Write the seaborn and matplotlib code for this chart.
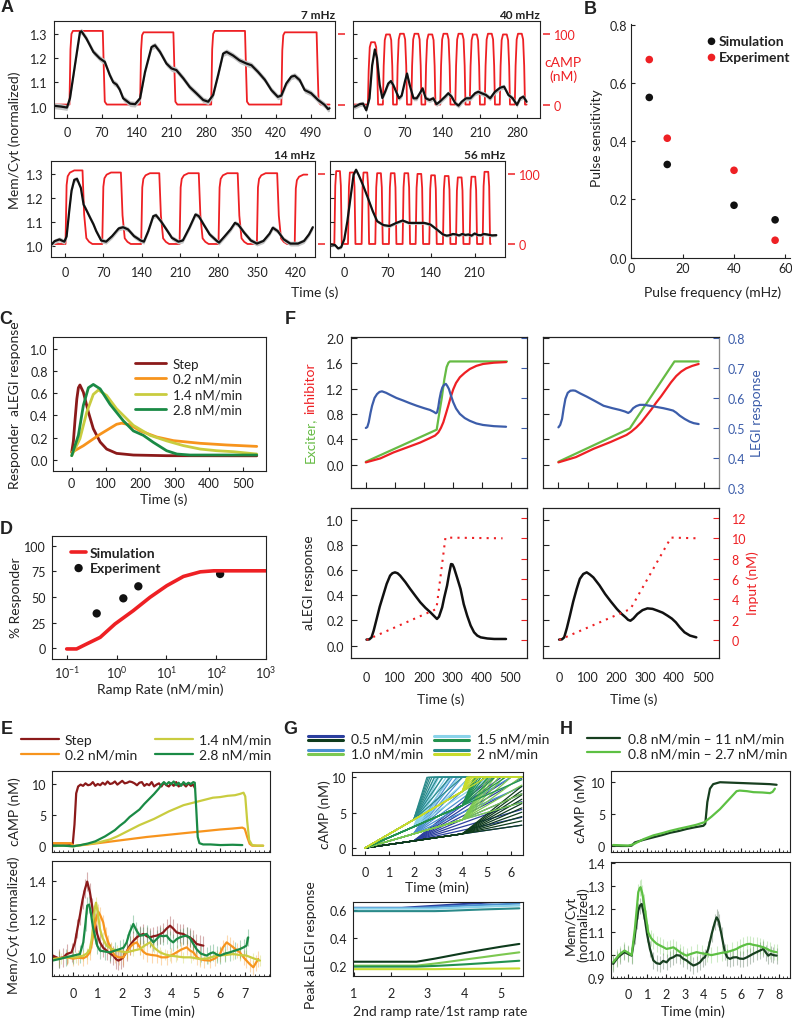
import matplotlib
matplotlib.use("Agg")
import numpy as np
import matplotlib.pyplot as plt
import seaborn as sns
from matplotlib.lines import Line2D
from matplotlib.legend_handler import HandlerBase
from matplotlib.ticker import MultipleLocator, FixedLocator, NullLocator, FormatStrFormatter

# ============================ DATA ============================
# ---- Panel A : black = Mem/Cyt (normalized), red = cAMP pulses (nM)
A7_BLACK = [(-25,1.003),(-12,1.0),(0,0.996),(6,1.034),(16,1.17),(26,1.305),(29,1.31),(39,1.28),(53,1.225),
            (66,1.198),(76,1.184),(86,1.13),(93,1.1),(100,1.09),(106,1.07),(113,1.034),(127,1.012),(137,1.01),
            (147,1.034),(157,1.143),(170,1.245),(177,1.252),(187,1.225),(200,1.177),(210,1.157),(220,1.15),
            (234,1.116),(247,1.08),(260,1.055),(274,1.027),(284,1.02),(294,1.048),(304,1.13),(314,1.218),
            (321,1.225),(334,1.21),(347,1.19),(361,1.177),(371,1.17),(384,1.143),(398,1.11),(411,1.068),
            (424,1.04),(431,1.045),(441,1.095),(451,1.123),(458,1.127),(468,1.109),(478,1.068),(491,1.055),
            (505,1.027),(518,1.007),(525,0.99),(528,0.993)]
A7_RISE = [5, 147, 290, 431]
A7_FALL = [72, 214, 358, 502]
A7_TOP = [104, 102, 104, 102]

A40_BLACK = [(-27,1.0),(-23,1.0),(-14,1.01),(-8,1.012),(-2,0.985),(4,1.034),(9,1.17),(14,1.235),(18,1.2),
             (23,1.09),(28,1.035),(33,1.06),(39,1.095),(44,1.105),(48,1.09),(54,1.06),(59,1.034),(64,1.045),
             (70,1.102),(74,1.136),(79,1.089),(86,1.034),(92,1.034),(98,1.055),(103,1.075),(109,1.034),
             (116,1.027),(123,1.034),(129,1.01),(135,1.02),(145,1.041),(151,1.055),(157,1.041),(164,1.014),
             (170,1.004),(176,1.02),(184,1.034),(192,1.034),(201,1.055),(207,1.061),(213,1.055),(221,1.048),
             (229,1.034),(238,1.061),(248,1.078),(255,1.082),(263,1.048),(271,1.034),(279,1.007),(285,1.034),
             (291,1.041),(297,1.02)]
A40_RISE = [1, 29, 55, 82, 108, 136, 164, 191, 219, 247, 275]
A40_FALL = [14, 42, 68, 95, 121, 149, 177, 204, 232, 260, 288]
A40_TOP = [88, 99, 100, 100, 99, 100, 100, 99, 100, 99, 100]

A14_BLACK = [(-24,1.007),(-19,1.02),(-10,1.0275),(-6,1.023),(-1,1.018),(3,1.04),(8,1.15),(12,1.23),(17,1.275),
             (22,1.279),(29,1.241),(34,1.172),(40,1.145),(46,1.117),(52,1.09),(57,1.062),(66,1.023),(75,1.018),
             (86,1.041),(98,1.073),(106,1.078),(115,1.069),(126,1.041),(138,1.023),(144,1.018),(152,1.062),
             (161,1.124),(166,1.128),(175,1.103),(187,1.062),(195,1.034),(207,1.018),(215,1.023),(227,1.076),
             (238,1.131),(244,1.124),(253,1.089),(264,1.048),(276,1.023),(281,1.014),(290,1.037),(302,1.069),
             (310,1.096),(316,1.089),(327,1.055),(339,1.023),(350,1.01),(362,1.021),(373,1.051),(379,1.076),
             (388,1.062),(399,1.0275),(411,1.01),(425,1.01),(436,1.021),(445,1.048),(452,1.078)]
A14_RISE = [1, 68, 139, 209, 280, 350, 419]
A14_FALL = [32, 102, 172, 244, 315, 387]
A14_TOP = [105, 102, 101, 101, 101, 101, 99]

A56_BLACK = [(-22,1.007),(-15,1.004),(-10,0.99),(-5,0.995),(0,1.028),(5,1.103),(10,1.2),(15,1.296),(19,1.317),
             (23,1.296),(30,1.254),(38,1.2),(46,1.144),(53,1.103),(63,1.087),(73,1.083),(84,1.096),(94,1.106),
             (104,1.096),(114,1.096),(129,1.096),(139,1.089),(149,1.069),(159,1.048),(165,1.043),(170,1.045),
             (175,1.05),(180,1.048),(185,1.044),(190,1.05),(195,1.046),(200,1.048),(205,1.043),(210,1.052),
             (215,1.046),(220,1.045),(225,1.05),(230,1.048),(238,1.044),(245,1.045)]
A56_RISE = [-16, 6, 28, 50, 72, 94, 115, 137, 159, 180, 202, 223]
A56_FALL = [-7, 15, 37, 59, 81, 103, 124, 146, 168, 189, 211, 232]
A56_TOP = [104, 102, 102, 101, 101, 101, 100, 98, 97, 95, 96, 103]

# ---- Panel B
B_FREQ = [7, 14, 40, 56]
B_SIM = [0.55, 0.32, 0.18, 0.13]
B_EXP = [0.68, 0.41, 0.30, 0.06]
B_YTICKS = [0.0, 0.2, 0.4, 0.6, 0.8]
B_YTICKLABELS = ["0.0", "0.2", "0.4", "0.6", "0.8"]

# ---- Panel C : responder aLEGI response vs time (s)
C_STEP = [(0,0.066),(5,0.17),(10,0.37),(15,0.55),(19.5,0.65),(24,0.675),(34,0.61),(48.7,0.43),(63,0.28),
          (83,0.16),(102,0.096),(131,0.057),(180,0.042),(277,0.036),(540,0.035)]
C_02 = [(0,0.066),(34,0.126),(83,0.23),(131,0.32),(146,0.33),(170,0.315),(200,0.26),(248,0.205),(297,0.172),
        (375,0.148),(452,0.133),(540,0.12)]
C_14 = [(0,0.036),(24,0.19),(44,0.43),(63,0.59),(78,0.63),(102,0.58),(131,0.46),(180,0.31),(229,0.22),
        (277,0.17),(326,0.127),(375,0.096),(423,0.081),(472,0.072),(540,0.051)]
C_28 = [(0,0.036),(19.5,0.22),(34,0.49),(48.7,0.65),(63,0.68),(83,0.64),(112,0.5),(151,0.35),(180,0.26),
        (209,0.22),(238,0.157),(277,0.081),(307,0.051),(345,0.042),(540,0.042)]

# ---- Panel D
D_SIM = [(0.1,-0.6),(0.158,-0.6),(0.25,4.2),(0.47,10.7),(0.93,23.7),(2.17,36.7),(4.7,49.7),(10.2,61),
         (22,70),(48,74.5),(89,75.5),(1000,75.5)]
D_EXP_X = [0.4, 1.37, 2.74, 120]
D_EXP_Y = [34, 48.7, 60.4, 72.4]

# ---- Panel E
E_STEP_CAMP = [(-0.85,0.4),(-0.5,0.45),(-0.2,0.4),(-0.02,0.4),(0.05,3.5),(0.12,8.5),(0.2,9.6),(0.3,9.9),
               (0.4,9.7),(0.5,10.1),(0.6,9.8),(0.7,9.9),(0.8,10.3),(0.9,9.7),(1.0,10.0),(1.1,9.8),(1.2,10.2),
               (1.3,9.9),(1.4,10.4),(1.5,10.0),(1.6,10.1),(1.7,10.4),(1.8,9.9),(1.9,10.2),(2.0,10.5),(2.1,10.1),
               (2.2,10.2),(2.3,10.4),(2.4,10.3),(2.5,10.1),(2.6,9.8),(2.7,10.2),(2.8,10.3),(2.9,9.7),(3.0,10.0),
               (3.1,9.8),(3.2,10.3),(3.3,9.6),(3.4,9.9),(3.5,10.1),(3.6,9.6),(3.7,10.2),(3.8,9.8),(3.9,9.6),
               (4.0,10.1),(4.1,9.7),(4.2,10.3),(4.3,9.6),(4.4,9.9),(4.5,10.0),(4.6,9.6),(4.7,10.1),(4.8,9.7),
               (4.9,9.9),(4.97,9.3)]
E_02_CAMP = [(-0.85,0.5),(-0.5,0.5),(-0.1,0.5),(0.0,0.05),(0.5,0.25),(1.0,0.5),(1.5,0.75),(2.0,1.0),(2.5,1.25),
             (3.0,1.5),(3.5,1.7),(4.0,1.9),(4.5,2.1),(5.0,2.3),(5.5,2.5),(6.0,2.7),(6.5,2.85),(6.9,3.0),
             (7.0,2.8),(7.1,1.5),(7.2,0.4),(7.3,0.1),(7.75,0.1)]
E_14_CAMP = [(-0.85,0.1),(-0.3,0.1),(0.0,0.0),(0.5,0.3),(1.0,0.6),(1.5,1.1),(1.8,1.6),(2.1,2.2),(2.4,2.8),
             (2.7,3.4),(3.0,3.9),(3.3,4.4),(3.6,5.0),(3.9,5.6),(4.2,6.1),(4.5,6.6),(4.8,6.9),(5.1,7.2),
             (5.4,7.5),(5.7,7.8),(6.0,7.9),(6.3,8.1),(6.6,8.2),(6.8,8.4),(6.95,8.6),(7.02,8.0),(7.1,4.0),
             (7.18,1.0),(7.3,0.2),(7.5,0.1),(7.75,0.1)]
E_28_CAMP = [(-0.85,0.1),(-0.4,0.1),(0.0,0.0),(0.3,0.2),(0.6,0.45),(0.9,0.8),(1.1,1.2),(1.3,1.6),(1.5,2.1),
             (1.7,2.6),(1.9,3.3),(2.1,3.9),(2.3,4.7),(2.5,5.3),(2.7,5.9),(2.9,6.8),(3.1,7.6),(3.3,8.4),
             (3.5,9.3),(3.6,9.9),(3.7,10.3),(3.8,9.9),(3.9,10.3),(4.0,10.0),(4.1,10.4),(4.2,9.8),(4.3,10.2),
             (4.4,9.7),(4.5,10.3),(4.6,9.9),(4.7,10.2),(4.8,10.0),(4.9,10.3),(4.96,10.2),(5.02,6.0),(5.08,1.5),
             (5.15,0.5),(5.3,0.3),(5.6,0.3),(6.0,0.2),(6.5,0.25),(6.9,0.2)]
E_STEP_MC = [(-0.85,1.01),(-0.6,0.995),(-0.4,1.0),(-0.27,1.017),(-0.07,1.026),(0.07,1.078),(0.17,1.15),
             (0.27,1.217),(0.38,1.3),(0.48,1.357),(0.57,1.395),(0.68,1.339),(0.78,1.26),(0.88,1.183),(0.98,1.12),
             (1.09,1.078),(1.22,1.05),(1.36,1.035),(1.5,1.02),(1.63,1.009),(1.75,0.99),(1.84,0.983),(1.95,0.99),
             (2.04,1.0),(2.18,1.03),(2.31,1.061),(2.45,1.085),(2.59,1.104),(2.72,1.115),(2.86,1.122),(3.0,1.11),
             (3.13,1.104),(3.27,1.11),(3.4,1.113),(3.54,1.12),(3.67,1.13),(3.81,1.15),(3.95,1.165),(4.08,1.15),
             (4.22,1.13),(4.35,1.125),(4.49,1.122),(4.63,1.11),(4.76,1.104),(4.9,1.09),(5.03,1.07),(5.17,1.065),
             (5.31,1.061)]
E_02_MC = [(-0.85,0.991),(-0.6,0.995),(-0.27,1.0),(0.0,0.993),(0.2,0.998),(0.41,0.995),(0.55,1.005),(0.68,1.026),
           (0.78,1.09),(0.88,1.165),(0.95,1.21),(1.02,1.238),(1.1,1.22),(1.22,1.183),(1.32,1.12),(1.43,1.078),
           (1.55,1.04),(1.7,1.009),(1.85,1.0),(2.04,1.0),(2.18,1.03),(2.31,1.052),(2.45,1.07),(2.59,1.078),
           (2.72,1.052),(2.85,1.03),(2.99,1.017),(3.2,1.012),(3.4,1.009),(3.6,1.0),(3.81,1.0),(4.0,1.01),
           (4.22,1.026),(4.4,1.04),(4.63,1.052),(4.77,1.035),(4.9,1.026),(5.05,1.0),(5.17,0.991),(5.35,0.985),
           (5.58,0.983),(5.8,0.995),(5.99,1.017),(6.1,1.05),(6.26,1.078),(6.4,1.065),(6.53,1.052),(6.7,1.035),
           (6.8,1.026),(6.95,1.0),(7.07,0.983),(7.2,0.965),(7.35,0.948),(7.45,0.97),(7.55,0.991)]
E_14_MC = [(-0.85,0.991),(-0.5,0.995),(-0.2,1.0),(0.1,1.0),(0.41,1.009),(0.55,1.02),(0.68,1.043),(0.76,1.1),
           (0.82,1.183),(0.88,1.26),(0.93,1.285),(1.0,1.23),(1.09,1.148),(1.2,1.1),(1.36,1.061),(1.55,1.045),
           (1.77,1.035),(1.98,1.03),(2.18,1.026),(2.45,1.035),(2.72,1.043),(2.9,1.06),(3.13,1.078),(3.3,1.05),
           (3.54,1.026),(3.75,1.015),(3.95,1.009),(4.2,1.005),(4.49,1.0),(4.8,1.0),(5.17,0.991),(5.5,0.995),
           (5.85,1.009),(6.2,1.012),(6.53,1.017),(6.8,1.012),(7.07,1.009),(7.35,0.995),(7.62,0.983)]
E_28_MC = [(-0.85,0.983),(-0.6,0.99),(-0.3,1.0),(0.0,1.009),(0.27,1.017),(0.41,1.078),(0.5,1.18),(0.57,1.27),
           (0.65,1.275),(0.72,1.23),(0.8,1.16),(0.88,1.113),(0.98,1.06),(1.09,1.035),(1.3,1.03),(1.5,1.026),
           (1.7,1.035),(1.9,1.043),(2.05,1.05),(2.18,1.078),(2.3,1.13),(2.45,1.174),(2.58,1.14),(2.72,1.113),
           (2.85,1.115),(2.99,1.122),(3.13,1.1),(3.27,1.078),(3.4,1.095),(3.54,1.113),(3.67,1.11),(3.81,1.113),
           (3.95,1.09),(4.08,1.078),(4.22,1.095),(4.35,1.104),(4.49,1.11),(4.63,1.113),(4.76,1.1),(4.9,1.07),
           (5.03,1.043),(5.2,1.02),(5.44,1.009),(5.58,1.02),(5.71,1.026),(5.85,1.015),(5.99,1.009),(6.2,1.02),
           (6.39,1.026),(6.6,1.035),(6.8,1.043),(6.95,1.052),(7.07,1.061),(7.14,1.104)]
E_LABELS = ["Step", "0.2 nM/min", "1.4 nM/min", "2.8 nM/min"]
E_ERR = [0.05, 0.04, 0.03, 0.045]

# ---- Panel F (simulations, time in s)
F1_GREEN = [(0,0.047),(243.6,0.553),(252,0.8),(260.6,1.04),(270,1.35),(277.6,1.54),(284,1.61),(289,1.63),(485,1.63)]
F1_RED = [(0,0.037),(50,0.1),(95.6,0.195),(140,0.27),(186.7,0.35),(220,0.42),(237.9,0.46),(249.3,0.51),
          (258,0.58),(266.4,0.67),(275,0.8),(283.4,0.93),(292,1.07),(300.5,1.19),(310,1.29),(323.2,1.38),
          (340,1.45),(357.3,1.51),(380,1.56),(402.8,1.59),(440,1.61),(482.4,1.62)]
F1_BLUE = [(0,0.5),(5,0.503),(10,0.519),(16,0.55),(21.5,0.574),(30,0.6),(38.6,0.613),(47,0.62),(55.6,0.622),
           (70,0.617),(84,0.61),(105,0.6),(129.6,0.591),(150,0.583),(175,0.574),(200,0.566),(220.5,0.56),
           (233,0.554),(241,0.549),(245,0.552),(249,0.569),(253,0.595),(258,0.619),(263,0.635),(268.5,0.643),
           (275,0.647),(280,0.64),(285.5,0.63),(292,0.61),(300.3,0.586),(310,0.565),(323,0.547),(340,0.533),
           (357,0.524),(380,0.515),(402.8,0.51),(440,0.506),(482,0.504)]
F2_GREEN = [(0,0.047),(245.5,0.574),(398.9,1.63),(482,1.63)]
F2_RED = [(0,0.037),(60,0.12),(120,0.25),(180,0.36),(234,0.47),(250,0.52),(268,0.59),(285,0.67),(302,0.77),
          (319,0.87),(336,0.98),(353,1.08),(370,1.19),(387,1.3),(405,1.4),(422,1.47),(439,1.52),(460,1.56),(482,1.59)]
F2_BLUE = [(0,0.502),(6,0.51),(12.5,0.53),(18,0.565),(24,0.597),(32,0.617),(41,0.624),(50,0.625),(58,0.624),
           (75,0.615),(98,0.604),(125,0.59),(155,0.574),(185,0.566),(211,0.56),(228,0.555),(240,0.55),
           (248,0.555),(257,0.566),(268,0.573),(280,0.577),(295,0.577),(314,0.574),(337,0.57),(360,0.566),
           (378,0.562),(394,0.558),(405,0.551),(417,0.541),(434,0.53),(451,0.521),(465,0.516),(482,0.513)]
F3_BLACK = [(0,0.048),(10,0.05),(17.5,0.066),(25,0.12),(35,0.21),(46,0.31),(58,0.4),(70,0.49),(82,0.556),
            (90,0.575),(99,0.582),(108,0.575),(117,0.556),(135,0.505),(152,0.45),(170,0.395),(187,0.344),
            (205,0.3),(222,0.265),(235,0.235),(245,0.212),(252,0.23),(258,0.27),(263,0.304),(270,0.38),
            (280,0.476),(288,0.58),(294,0.648),(299,0.645),(304,0.62),(315,0.54),(327,0.45),(338,0.33),
            (350,0.238),(362,0.16),(374,0.106),(385,0.08),(397,0.066),(420,0.057),(444,0.053),(485,0.053)]
F3_INPUT = [(0,0.0),(243,3.05),(274.5,10.07),(473,10.0)]
F4_BLACK = [(0,0.048),(10,0.05),(17.6,0.066),(27,0.14),(37.5,0.238),(49,0.35),(61,0.45),(72,0.53),(84,0.569),
            (96,0.582),(107,0.565),(119,0.542),(140,0.48),(160,0.41),(180,0.35),(201,0.291),(216,0.255),
            (231,0.225),(240,0.205),(248,0.198),(258,0.215),(272,0.251),(290,0.282),(307,0.296),(325,0.292),
            (342,0.278),(360,0.262),(377,0.238),(392,0.215),(406,0.185),(420,0.145),(436,0.106),(455,0.08),
            (477,0.066)]
F4_INPUT = [(0,0.0),(248,3.05),(389,10.07),(482,10.0)]

# ---- Panel G
G_RATES = [0.5, 1.0, 1.5, 2.0]          # first ramp rate, nM/min
G_SWITCH = [2, 4]                        # time of rate switch, min
G_RATIOS = [1, 1.5, 2, 2.5, 3, 3.5, 4, 4.5, 5, 5.5]
G_TEND = 6.45
G_CMAX = 10
G_RATE_LABELS = ["0.5 nM/min", "1.0 nM/min", "1.5 nM/min", "2 nM/min"]
G_COL_SW2 = ["#2B3F9E", "#4A8FD0", "#8AD3EA", "#2A8A8A"]
G_COL_SW4 = ["#0E3B1C", "#7CC850", "#22924E", "#C8DC2C"]
G_RATIO_X = [1, 2, 2.3, 2.7, 3.2, 3.5, 4, 4.5, 5, 5.5]
G_PEAK_SW2 = [[0.617,0.617,0.617,0.624,0.632,0.637,0.645,0.653,0.661,0.669],
              [0.617,0.617,0.617,0.617,0.623,0.627,0.633,0.638,0.643,0.648],
              [0.612,0.612,0.612,0.612,0.612,0.615,0.620,0.625,0.630,0.634],
              [0.594,0.594,0.594,0.594,0.594,0.596,0.601,0.606,0.610,0.614]]
G_PEAK_SW4 = [[0.233,0.233,0.233,0.233,0.255,0.270,0.295,0.318,0.340,0.360],
              [0.205,0.205,0.205,0.205,0.220,0.230,0.248,0.265,0.283,0.300],
              [0.198,0.198,0.198,0.198,0.203,0.207,0.214,0.222,0.231,0.240],
              [0.180,0.180,0.180,0.180,0.180,0.181,0.182,0.183,0.184,0.185]]

# ---- Panel H
H_11_CAMP = [(-0.8,0.1),(-0.4,0.05),(0.0,0.05),(0.18,0.1),(0.35,0.6),(0.8,1.0),(1.33,1.4),(1.8,1.75),(2.21,2.1),
             (2.7,2.4),(3.09,2.7),(3.5,2.95),(3.98,3.2),(4.08,3.5),(4.19,6.9),(4.33,9.0),(4.5,9.7),(4.86,10.0),
             (5.3,9.95),(5.74,9.9),(6.2,9.85),(6.63,9.8),(7.1,9.75),(7.51,9.7),(7.86,9.6)]
H_27_CAMP = [(-0.8,0.2),(-0.4,0.15),(0.0,0.1),(0.27,0.3),(0.8,1.1),(1.33,1.7),(1.8,2.05),(2.21,2.4),(2.7,2.75),
             (3.09,3.0),(3.6,3.35),(4.03,3.75),(4.4,4.6),(4.86,5.8),(5.3,7.2),(5.74,8.6),(5.9,8.7),(6.3,8.6),
             (6.63,8.45),(7.1,8.4),(7.51,8.3),(7.65,8.5),(7.77,9.0)]
H_11_MC = [(-0.8,0.962),(-0.6,0.985),(-0.44,0.998),(-0.2,1.013),(0.0,1.005),(0.18,0.998),(0.35,1.085),(0.45,1.15),
           (0.53,1.193),(0.62,1.215),(0.71,1.222),(0.8,1.19),(0.88,1.157),(1.0,1.09),(1.15,1.027),(1.33,0.977),
           (1.5,0.965),(1.68,0.962),(1.85,0.975),(2.03,0.969),(2.2,0.985),(2.39,0.991),(2.55,1.0),(2.74,0.998),
           (2.9,0.985),(3.09,0.977),(3.27,0.965),(3.45,0.955),(3.62,0.96),(3.8,0.969),(3.95,0.985),(4.06,0.991),
           (4.24,1.027),(4.42,1.092),(4.59,1.143),(4.68,1.164),(4.75,1.155),(4.81,1.143),(4.95,1.085),(5.12,1.013),
           (5.25,0.99),(5.39,0.984),(5.55,0.99),(5.74,0.991),(5.9,0.985),(6.1,0.984),(6.27,0.99),(6.45,0.998),
           (6.6,1.005),(6.8,1.013),(6.98,1.02),(7.16,1.027),(7.3,1.01),(7.42,0.998),(7.55,1.005),(7.69,1.0),(7.86,0.998)]
H_27_MC = [(-0.8,0.969),(-0.6,0.99),(-0.44,1.005),(-0.2,1.02),(0.0,1.01),(0.18,1.0),(0.35,1.114),(0.45,1.2),
           (0.53,1.273),(0.6,1.29),(0.65,1.295),(0.74,1.27),(0.83,1.229),(0.95,1.16),(1.06,1.099),(1.2,1.075),
           (1.33,1.063),(1.5,1.05),(1.68,1.042),(1.85,1.035),(2.03,1.027),(2.2,1.03),(2.39,1.034),(2.55,1.025),
           (2.74,1.013),(2.9,1.005),(3.09,0.998),(3.3,1.005),(3.62,1.013),(3.9,1.008),(4.15,1.005),(4.4,1.0),
           (4.68,1.005),(4.95,1.01),(5.21,1.013),(5.5,1.02),(5.74,1.027),(5.9,1.035),(6.1,1.042),(6.3,1.048),
           (6.45,1.049),(6.6,1.045),(6.8,1.042),(7.0,1.038),(7.16,1.034),(7.35,1.027),(7.51,1.02),(7.7,1.015),(7.86,1.013)]
H_LABELS = ["0.8 nM/min \u2013 11 nM/min", "0.8 nM/min \u2013 2.7 nM/min"]
H_ERR = [0.035, 0.035]

# ============================ STYLE ============================
sns.set_theme(style="ticks")
plt.rcParams["font.family"] = ["Lato", "DejaVu Sans"]
plt.rcParams.update({
    "axes.linewidth": 0.8, "axes.edgecolor": "#222222", "axes.labelcolor": "#222222",
    "text.color": "#222222", "xtick.color": "#222222", "ytick.color": "#222222",
    "xtick.labelsize": 9, "ytick.labelsize": 9, "xtick.direction": "in", "ytick.direction": "in",
    "xtick.major.size": 3, "ytick.major.size": 3, "xtick.minor.size": 1.8, "ytick.minor.size": 1.8,
    "xtick.major.width": 0.8, "ytick.major.width": 0.8, "xtick.minor.width": 0.6,
    "legend.fontsize": 10, "mathtext.default": "regular",
})

RED = "#EE2024"
BLUE = "#3C5DAA"
GREEN_F = "#66BB44"
C_COLORS = ["#8B1A1A", "#F7941D", "#C9CC3F", "#1A8A45"]
H_COLORS = ["#173F1F", "#5DC043"]

W, H = 792, 1020
fig = plt.figure(figsize=(W / 100, H / 100), dpi=100)


def add_ax(l, t, r, b):
    return fig.add_axes([l / W, 1 - b / H, (r - l) / W, (b - t) / H])


def ftext(x, y, s, **kw):
    return fig.text(x / W, 1 - y / H, s, **kw)


def xy(data):
    a = np.asarray(data, dtype=float)
    return a[:, 0], a[:, 1]


def line(ax, data, color, lw=1.5, **kw):
    t, v = xy(data)
    sns.lineplot(x=t, y=v, ax=ax, color=color, lw=lw, estimator=None, sort=False, legend=False, **kw)


def pulse_train(t0, t1, rises, falls, tops, rshape, fshape):
    ts, vs = [t0], [0.0]
    for i, r in enumerate(rises):
        for dt, f in zip(*rshape):
            ts.append(r + dt); vs.append(f * tops[i])
        if i < len(falls):
            for dt, f in zip(*fshape):
                ts.append(falls[i] + dt); vs.append(f * tops[i])
    ts.append(t1); vs.append(vs[-1])
    return np.array(ts), np.array(vs)


def fig_anchor(x, y):
    return (x / W, 1 - y / H)


def ylab(x, y, s, **kw):
    kw.setdefault("fontsize", 10)
    return ftext(x, y, s, rotation=90, ha="center", va="center", **kw)


# ============================ PANEL A ============================
A_PANELS = [
    dict(box=(54.3, 22, 335, 119), black=A7_BLACK, err=0.012, rises=A7_RISE, falls=A7_FALL, tops=A7_TOP,
         rs=([0, 2, 4, 7], [0, 0.75, 0.96, 1.0]), fs=([0, 2, 4, 8], [1.0, 0.5, 0.04, 0.0]),
         span=(-25, 528), xlim=(-25.5, 539), xticks=[0, 70, 140, 210, 280, 350, 420, 490],
         title="7 mHz", left=True, right=False),
    dict(box=(352.7, 22, 540, 119), black=A40_BLACK, err=0.01, rises=A40_RISE, falls=A40_FALL, tops=A40_TOP,
         rs=([0, 1.5, 3.5, 6], [0, 0.55, 0.92, 1.0]), fs=([0, 2.5, 4.5, 6], [1.0, 0.92, 0.55, 0.0]),
         span=(-27, 297), xlim=(-27.3, 322), xticks=[0, 70, 140, 210, 280],
         title="40 mHz", left=False, right=True),
    dict(box=(50.7, 162.3, 315, 258.3), black=A14_BLACK, err=0.01, rises=A14_RISE, falls=A14_FALL, tops=A14_TOP,
         rs=([0, 2, 4, 8, 16], [0, 0.8, 0.92, 0.97, 1.0]), fs=([0, 3, 7, 12, 18], [1.0, 0.4, 0.08, 0.03, 0.0]),
         span=(-24, 442), xlim=(-26, 456), xticks=[0, 70, 140, 210, 280, 350, 420],
         title="14 mHz", left=True, right=False),
    dict(box=(330, 162.3, 505, 258.3), black=A56_BLACK, err=0.006, rises=A56_RISE, falls=A56_FALL, tops=A56_TOP,
         rs=([0, 1.5, 3], [0, 0.8, 1.0]), fs=([0, 1.5, 3], [1.0, 0.8, 0.0]),
         span=(-23, 236), xlim=(-23, 259), xticks=[0, 70, 140, 210],
         title="56 mHz", left=False, right=True),
]
for p in A_PANELS:
    ax = add_ax(*p["box"])
    ax2 = ax.twinx()
    rt, rv = pulse_train(p["span"][0], p["span"][1], p["rises"], p["falls"], p["tops"], p["rs"], p["fs"])
    sns.lineplot(x=rt, y=rv, ax=ax2, color=RED, lw=1.3, estimator=None, sort=False, legend=False)
    t, v = xy(p["black"])
    ax.fill_between(t, v - p["err"], v + p["err"], color="#C4C4C4", lw=0)
    line(ax, p["black"], "#111111", 1.6)
    ax.set_zorder(ax2.get_zorder() + 1)
    ax.patch.set_visible(False)
    ax.set_xlim(*p["xlim"]); ax.set_ylim(0.953, 1.352)
    ax.set_xticks(p["xticks"]); ax.set_yticks([1.0, 1.1, 1.2, 1.3])
    ax.yaxis.set_major_formatter(FormatStrFormatter("%.1f"))
    ax.tick_params(axis="both", direction="in", length=3, pad=5)
    ax.tick_params(axis="x", pad=6)
    ax.tick_params(labelleft=p["left"])
    ax2.set_ylim(-19, 118); ax2.set_yticks([0, 100])
    for s in ax2.spines.values():
        s.set_visible(False)
    ax2.spines["right"].set_position(("outward", 2))
    ax2.tick_params(axis="y", direction="out", length=5, width=1.1, colors=RED, labelsize=9, pad=3,
                    labelright=p["right"])
    ax2.set_ylabel(""); ax.set_ylabel(""); ax.set_xlabel("")
    ftext(p["box"][2], p["box"][1] - 1, p["title"], ha="right", va="bottom", fontsize=8.5, fontweight="bold")

ylab(15, 140, "Mem/Cyt (normalized)")
ftext(315, 293, "Time (s)", ha="center", va="center", fontsize=10)
ftext(563, 70, "cAMP\n(nM)", ha="center", va="center", fontsize=10, color=RED, linespacing=1.15)

# ============================ PANEL B ============================
axB = add_ax(631.3, 25, 790, 259.3)
sns.scatterplot(x=B_FREQ, y=B_SIM, ax=axB, color="#111111", s=30, edgecolor="none", label="Simulation")
sns.scatterplot(x=B_FREQ, y=B_EXP, ax=axB, color=RED, s=30, edgecolor="none", label="Experiment")
axB.set_xlim(0, 61.8); axB.set_ylim(-0.002, 0.802)
axB.set_yticks(B_YTICKS)
axB.set_yticklabels(B_YTICKLABELS)
axB.set_xticks([0, 20, 40, 60])
axB.set_xticklabels(["0", "20", "40", "60"])
axB.spines["top"].set_visible(False); axB.spines["right"].set_visible(False)
axB.tick_params(axis="both", direction="in", length=3, pad=3)
axB.set_xlabel(""); axB.set_ylabel("")
axB.legend(loc="upper left", bbox_to_anchor=fig_anchor(699, 29), bbox_transform=fig.transFigure,
           frameon=False, borderpad=0, handlelength=0.8, handletextpad=0.15, labelspacing=0.3,
           prop={"weight": "bold", "size": 10})
ylab(597, 138, "Pulse sensitivity")
ftext(713, 293, "Pulse frequency (mHz)", ha="center", va="center", fontsize=10)

# ============================ PANEL C ============================
axC = add_ax(53.3, 338.3, 266, 472.3)
for data, col, lab in zip([C_STEP, C_02, C_14, C_28], C_COLORS, E_LABELS):
    line(axC, data, col, 2.0, label=lab)
axC.set_xlim(-53.7, 567); axC.set_ylim(-0.105, 1.106)
axC.set_xticks([0, 100, 200, 300, 400, 500]); axC.set_yticks([0, 0.2, 0.4, 0.6, 0.8, 1.0])
axC.yaxis.set_major_formatter(FormatStrFormatter("%.1f"))
axC.tick_params(axis="both", direction="in", length=3)
axC.tick_params(axis="y", pad=4); axC.tick_params(axis="x", pad=4)
axC.legend(loc="upper left", bbox_to_anchor=fig_anchor(128, 352), bbox_transform=fig.transFigure,
           frameon=False, borderpad=0, handlelength=2.4, handletextpad=0.5, labelspacing=0.25, fontsize=9.5)
ylab(15, 405, "Responder  aLEGI response")
ftext(164, 500, "Time (s)", ha="center", va="center", fontsize=10)

# ============================ PANEL D ============================
axD = add_ax(51.7, 536.7, 266, 660)
axD.set_xscale("log")
line(axD, D_SIM, RED, 2.6, label="Simulation")
sns.scatterplot(x=D_EXP_X, y=D_EXP_Y, ax=axD, color="#111111", s=36, edgecolor="none", label="Experiment")
axD.set_xlim(0.05, 1000); axD.set_ylim(-10.4, 109.7)
axD.xaxis.set_major_locator(FixedLocator([0.1, 1, 10, 100, 1000]))
axD.set_xticklabels(["$10^{-1}$", "$10^{0}$", "$10^{1}$", "$10^{2}$", "$10^{3}$"])
axD.xaxis.set_minor_locator(NullLocator())
axD.set_yticks([0, 25, 50, 75, 100])
axD.tick_params(axis="both", direction="in", length=3, pad=4)
axD.set_xlabel(""); axD.set_ylabel("")
axD.legend(loc="upper left", bbox_to_anchor=fig_anchor(64, 541), bbox_transform=fig.transFigure,
           frameon=False, borderpad=0, handlelength=1.1, handletextpad=0.25, labelspacing=0.2,
           prop={"weight": "bold", "size": 10})
ylab(16, 598, "% Responder")
ftext(160, 690, "Ramp Rate (nM/min)", ha="center", va="center", fontsize=10)

# ============================ PANEL E ============================
axE1 = add_ax(51.7, 771.7, 270, 853.3)
axE2 = add_ax(51.7, 861.7, 270, 977.3)
for data, col, lab in zip([E_STEP_CAMP, E_02_CAMP, E_14_CAMP, E_28_CAMP], C_COLORS, E_LABELS):
    line(axE1, data, col, 1.6, label=lab)
for data, col, err in zip([E_STEP_MC, E_02_MC, E_14_MC, E_28_MC], C_COLORS, E_ERR):
    t, v = xy(data)
    axE2.vlines(t, v - err, v + err, color=col, alpha=0.35, lw=0.8)
for data, col in zip([E_STEP_MC, E_02_MC, E_14_MC, E_28_MC], C_COLORS):
    line(axE2, data, col, 1.6)
for ax in (axE1, axE2):
    ax.set_xlim(-0.88, 8.03)
    ax.xaxis.set_major_locator(FixedLocator(range(0, 8)))
    ax.xaxis.set_minor_locator(MultipleLocator(0.2))
    ax.tick_params(axis="both", which="both", direction="in")
    ax.tick_params(axis="y", pad=4)
    ax.set_xlabel(""); ax.set_ylabel("")
axE1.set_ylim(-0.96, 12.13); axE1.set_yticks([0, 5, 10]); axE1.tick_params(labelbottom=False)
axE2.set_ylim(0.901, 1.504); axE2.set_yticks([1.0, 1.2, 1.4])
axE2.yaxis.set_major_formatter(FormatStrFormatter("%.1f"))
axE2.tick_params(axis="x", pad=8)
h, l = axE1.get_legend_handles_labels()
fig.legend(h, l, ncol=2, loc="upper left", bbox_to_anchor=fig_anchor(21, 735), frameon=False,
           borderpad=0, borderaxespad=0, handlelength=2.75, handletextpad=0.4, columnspacing=1.3,
           labelspacing=0.2, fontsize=10)
ylab(15, 812, "cAMP (nM)")
ylab(14, 925, "Mem/Cyt (normalized)")
ftext(163, 1012, "Time (min)", ha="center", va="center", fontsize=10)

# ============================ PANEL F ============================
F_TOP = [(350.7, 338.3, 526.7, 489.3), (543.3, 338.3, 719.3, 489.3)]
F_BOT = [(350.7, 509, 526.7, 659), (543.3, 509, 719.3, 659)]
for i, (box, g, r, b) in enumerate(zip(F_TOP, [F1_GREEN, F2_GREEN], [F1_RED, F2_RED], [F1_BLUE, F2_BLUE])):
    ax = add_ax(*box)
    axr = ax.twinx()
    line(ax, g, GREEN_F, 1.6)
    line(ax, r, RED, 1.6)
    line(axr, b, BLUE, 1.6)
    ax.set_xlim(-52, 553); ax.set_ylim(-0.372, 2.011)
    ax.set_xticks([0, 100, 200, 300, 400, 500]); ax.set_yticks([0, 0.4, 0.8, 1.2, 1.6, 2.0])
    ax.yaxis.set_major_formatter(FormatStrFormatter("%.1f"))
    ax.tick_params(axis="both", direction="in", length=4, pad=5, labelbottom=False, labelleft=(i == 0))
    axr.set_ylim(0.299, 0.802); axr.set_yticks([0.3, 0.4, 0.5, 0.6, 0.7, 0.8])
    axr.yaxis.set_major_formatter(FormatStrFormatter("%.1f"))
    axr.tick_params(axis="y", direction="in", length=4, pad=6, colors=BLUE, labelright=(i == 1))
    ax.set_xlabel(""); ax.set_ylabel(""); axr.set_ylabel("")
    if i == 1:
        axr.spines["right"].set_color("#888888")
for i, (box, k, inp) in enumerate(zip(F_BOT, [F3_BLACK, F4_BLACK], [F3_INPUT, F4_INPUT])):
    ax = add_ax(*box)
    axr = ax.twinx()
    line(ax, k, "#111111", 1.8)
    line(axr, inp, RED, 1.5, linestyle=(0, (1, 2.5)))
    ax.set_xlim(-55, 557); ax.set_ylim(-0.098, 1.093)
    ax.set_xticks([0, 100, 200, 300, 400, 500]); ax.set_yticks([0, 0.2, 0.4, 0.6, 0.8, 1.0])
    ax.yaxis.set_major_formatter(FormatStrFormatter("%.1f"))
    ax.tick_params(axis="both", direction="in", length=4, pad=5, labelleft=(i == 0))
    ax.tick_params(axis="x", length=0, pad=9)
    axr.set_ylim(-1.77, 12.98); axr.set_yticks([0, 2, 4, 6, 8, 10, 12])
    axr.tick_params(axis="y", direction="in", length=4, pad=9, colors=RED, labelright=(i == 1))
    ax.set_xlabel(""); ax.set_ylabel(""); axr.set_ylabel("")
    ftext((box[0] + box[2]) / 2 + 2, 700, "Time (s)", ha="center", va="center", fontsize=10)

renderer = fig.canvas.get_renderer()
t1 = ftext(310, 463, "Exciter,", rotation=90, ha="center", va="bottom", fontsize=10, color=GREEN_F)
bb = t1.get_window_extent(renderer)
ftext(310, H - bb.y1 - 4, "inhibitor", rotation=90, ha="center", va="bottom", fontsize=10, color=RED)
ylab(757, 413, "LEGI response", color=BLUE)
ylab(309, 583, "aLEGI response")
ylab(753, 583, "Input (nM)", color=RED)

# ============================ PANEL G ============================
axG1 = add_ax(351.7, 772.7, 523, 855.7)
axG2 = add_ax(352.7, 903.3, 523, 977.3)
for ts, cols in zip(G_SWITCH, [G_COL_SW2, G_COL_SW4]):
    for rate, col in zip(G_RATES, cols):
        v_sw = rate * ts
        for ratio in G_RATIOS:
            slope = rate * ratio
            t_hit = ts + (G_CMAX - v_sw) / slope
            if t_hit < G_TEND:
                pts = [(0, 0), (ts, v_sw), (t_hit, G_CMAX), (G_TEND, G_CMAX)]
            else:
                pts = [(0, 0), (ts, v_sw), (G_TEND, v_sw + slope * (G_TEND - ts))]
            line(axG1, pts, col, 0.9)
for vals, col in zip(G_PEAK_SW2, G_COL_SW2):
    line(axG2, list(zip(G_RATIO_X, vals)), col, 1.5)
for vals, col in zip(G_PEAK_SW4, G_COL_SW4):
    line(axG2, list(zip(G_RATIO_X, vals)), col, 1.5)
axG1.set_xlim(-0.55, 6.5); axG1.set_ylim(-0.95, 10.8)
axG1.set_xticks(range(0, 7)); axG1.set_yticks([0, 5, 10])
axG2.set_xlim(0.965, 5.6); axG2.set_ylim(0.129, 0.657)
axG2.set_xticks([1, 2, 3, 4, 5]); axG2.set_yticks([0.2, 0.4, 0.6])
axG2.yaxis.set_major_formatter(FormatStrFormatter("%.1f"))
for ax in (axG1, axG2):
    ax.tick_params(axis="both", direction="in", length=3)
    ax.tick_params(axis="y", pad=4); ax.tick_params(axis="x", pad=8)
    ax.set_xlabel(""); ax.set_ylabel("")


class ColorPair:
    def __init__(self, c1, c2):
        self.colors = (c1, c2)


class PairHandler(HandlerBase):
    def create_artists(self, legend, orig_handle, xdescent, ydescent, width, height, fontsize, trans):
        c1, c2 = orig_handle.colors
        off = height * 0.2
        y0 = height / 2 - ydescent
        l1 = Line2D([-xdescent, width - xdescent], [y0 + off] * 2, color=c1, lw=2.2)
        l2 = Line2D([-xdescent, width - xdescent], [y0 - off] * 2, color=c2, lw=2.2)
        l1.set_transform(trans); l2.set_transform(trans)
        return [l1, l2]


pairs = [ColorPair(a, b) for a, b in zip(G_COL_SW2, G_COL_SW4)]
fig.legend(pairs, G_RATE_LABELS, handler_map={ColorPair: PairHandler()}, ncol=2, loc="upper left",
           bbox_to_anchor=fig_anchor(308, 733.5), frameon=False, borderpad=0, borderaxespad=0,
           handlelength=2.5, handletextpad=0.6, columnspacing=0.8, labelspacing=0.2, fontsize=10)
ylab(325, 815, "cAMP (nM)")
ylab(311, 945, "Peak aLEGI response")
ftext(437, 888, "Time (min)", ha="center", va="center", fontsize=10)
ftext(440, 1012, "2nd ramp rate/1st ramp rate", ha="center", va="center", fontsize=10)

# ============================ PANEL H ============================
axH1 = add_ax(610.7, 771.7, 790, 853.3)
axH2 = add_ax(610.7, 862.7, 790, 979.3)
for data, col, lab in zip([H_11_CAMP, H_27_CAMP], H_COLORS, H_LABELS):
    line(axH1, data, col, 1.6, label=lab)
for data, col, err in zip([H_11_MC, H_27_MC], H_COLORS, H_ERR):
    t, v = xy(data)
    axH2.vlines(t, v - err, v + err, color=col, alpha=0.3, lw=0.8)
for data, col in zip([H_11_MC, H_27_MC], H_COLORS):
    line(axH2, data, col, 1.6)
for ax in (axH1, axH2):
    ax.set_xlim(-0.93, 8.57)
    ax.xaxis.set_major_locator(FixedLocator(range(0, 9)))
    ax.xaxis.set_minor_locator(MultipleLocator(0.2))
    ax.tick_params(axis="both", which="both", direction="in")
    ax.tick_params(axis="y", pad=4)
    ax.set_xlabel(""); ax.set_ylabel("")
axH1.set_ylim(-0.94, 11.8); axH1.set_yticks([0, 5, 10]); axH1.tick_params(labelbottom=False)
axH2.set_ylim(0.8995, 1.4056)
axH2.yaxis.set_major_locator(FixedLocator([0.9, 1.0, 1.1, 1.2, 1.3, 1.4]))
axH2.yaxis.set_major_formatter(FormatStrFormatter("%.1f"))
axH2.tick_params(axis="x", pad=7)
h, l = axH1.get_legend_handles_labels()
fig.legend(h, l, loc="upper left", bbox_to_anchor=fig_anchor(586.5, 733.5), frameon=False,
           borderpad=0, borderaxespad=0, handlelength=2.4, handletextpad=0.6, labelspacing=0.2, fontsize=10)
ylab(581, 809, "cAMP (nM)")
ylab(577, 925, "Mem/Cyt\n(normalized)", linespacing=1.05)
ftext(693, 1012, "Time (min)", ha="center", va="center", fontsize=10)

# ============================ LETTERS ============================
for letter, (x, y) in {"A": (7.5, 8), "B": (590, 9), "C": (6, 319), "D": (6.5, 530), "E": (6.5, 730),
                       "F": (290, 319.5), "G": (290, 730), "H": (566.5, 730)}.items():
    ftext(x, y, letter, ha="center", va="center", fontsize=13, fontweight="bold",
          family=["Liberation Sans", "DejaVu Sans"])

fig.savefig("out.png", dpi=100)
